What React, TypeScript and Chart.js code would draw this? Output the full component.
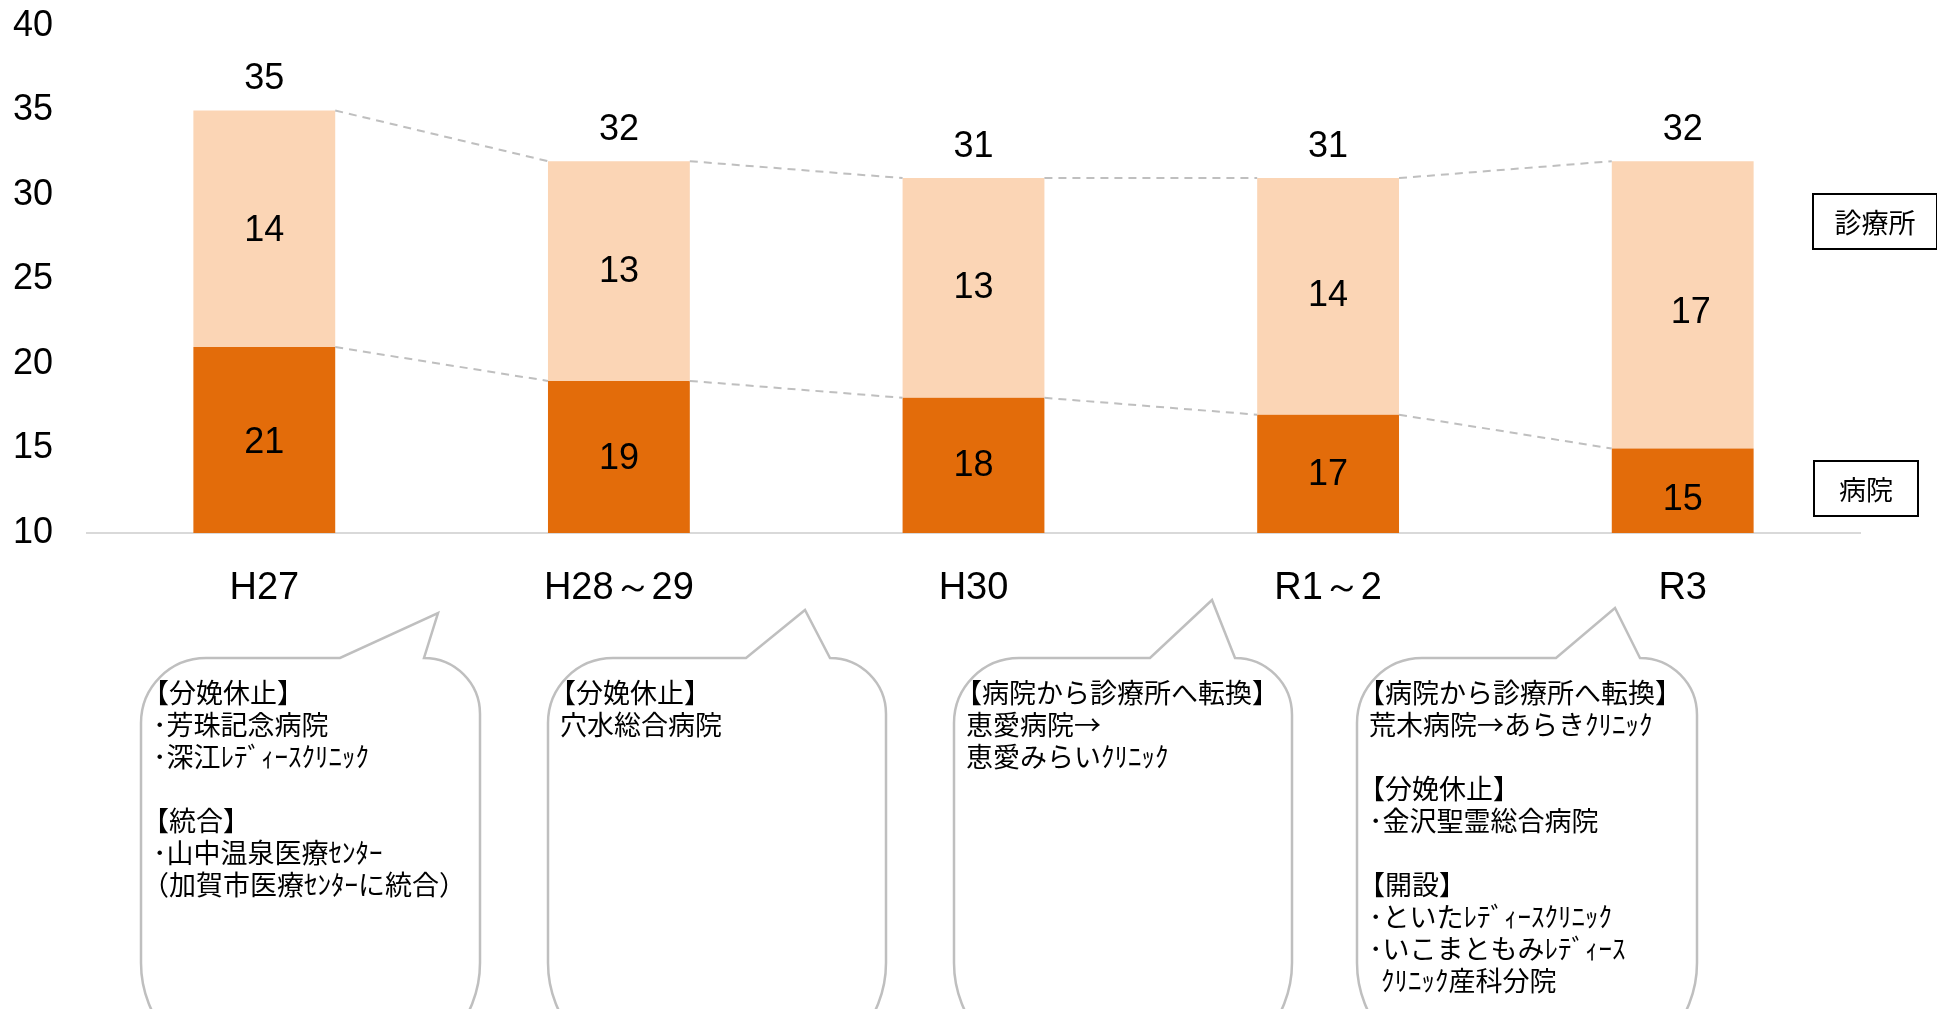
import React, { useEffect, useRef } from 'react';
import { Chart, registerables } from 'chart.js';

Chart.register(...registerables);

// ---------- data ----------
const categories = ['H27', 'H28～29', 'H30', 'R1～2', 'R3'];
const hospitalValues = [21, 19, 18, 17, 15];
const clinicValues = [14, 13, 13, 14, 17];
const hospitalName = '病院';
const clinicName = '診療所';
const yMin = 10;
const yMax = 40;
const yStep = 5;

const calloutTexts: string[][] = [
  ['【分娩休止】', '･芳珠記念病院', '･深江ﾚﾃﾞｨｰｽｸﾘﾆｯｸ', '', '【統合】', '･山中温泉医療ｾﾝﾀｰ', '（加賀市医療ｾﾝﾀｰに統合）'],
  ['【分娩休止】', '穴水総合病院'],
  ['【病院から診療所へ転換】', '恵愛病院→', '恵愛みらいｸﾘﾆｯｸ'],
  [
    '【病院から診療所へ転換】',
    '荒木病院→あらきｸﾘﾆｯｸ',
    '',
    '【分娩休止】',
    '･金沢聖霊総合病院',
    '',
    '【開設】',
    '･といたﾚﾃﾞｨｰｽｸﾘﾆｯｸ',
    '･いこまともみﾚﾃﾞｨｰｽ',
    '  ｸﾘﾆｯｸ産科分院',
  ],
];

// ---------- layout / style ----------
const W = 1937;
const H = 1009;
const LATIN = '"Liberation Sans", Arial, sans-serif';
const CJK = '"Noto Sans CJK JP", sans-serif';
const HOSPITAL_COLOR = '#E36C0A';
const CLINIC_COLOR = '#FBD5B5';
const SERIES_LINE_COLOR = '#bfbfbf';
const BUBBLE_STROKE = '#bfbfbf';

// small manual nudges of segment labels (dataset index -> per category [dx, dy])
const labelNudges: number[][][] = [
  [[0, 3], [0, 2], [0, 1], [0, 1], [0, 9]],
  [[0, 2], [0, 1], [0, 0], [0, 0], [8, 8]],
];

const calloutBoxes = [
  { left: 141, right: 480, tailL: 340, tailR: 424, tipX: 438, tipY: 613 },
  { left: 548, right: 886, tailL: 746, tailR: 830, tipX: 805, tipY: 610 },
  { left: 954, right: 1292, tailL: 1150, tailR: 1235, tipX: 1212, tipY: 600 },
  { left: 1357, right: 1697, tailL: 1556, tailR: 1640, tipX: 1615, tipY: 608 },
];
const CALLOUT_TOP = 658;
const CALLOUT_BOTTOM = 1073;
const CALLOUT_TEXT_Y0 = 693;
const CALLOUT_LINE_H = 32;

const legendBoxes = [
  { text: clinicName, x: 1813, y: 194, w: 124, h: 55 },
  { text: hospitalName, x: 1814, y: 461, w: 104, h: 55 },
];

const overlayPlugin = {
  id: 'overlayPlugin',
  afterDatasetsDraw(chart: any) {
    const ctx: CanvasRenderingContext2D = chart.ctx;
    const area = chart.chartArea;
    const metas = chart.data.datasets.map((_: any, i: number) => chart.getDatasetMeta(i));

    // dashed series lines
    ctx.save();
    ctx.strokeStyle = SERIES_LINE_COLOR;
    ctx.lineWidth = 2;
    ctx.setLineDash([8, 6]);
    metas.forEach((meta: any) => {
      for (let i = 0; i < meta.data.length - 1; i++) {
        const a = meta.data[i];
        const b = meta.data[i + 1];
        ctx.beginPath();
        ctx.moveTo(a.x + a.width / 2, a.y);
        ctx.lineTo(b.x - b.width / 2, b.y);
        ctx.stroke();
      }
    });
    ctx.restore();

    // segment labels
    ctx.save();
    ctx.fillStyle = '#000';
    ctx.font = `36px ${LATIN}`;
    ctx.textAlign = 'center';
    ctx.textBaseline = 'middle';
    metas.forEach((meta: any, di: number) => {
      const values = chart.data.datasets[di].data;
      meta.data.forEach((el: any, i: number) => {
        const bottom = Math.min(el.base, area.bottom);
        const top = Math.max(el.y, area.top);
        const n = (labelNudges[di] && labelNudges[di][i]) || [0, 0];
        ctx.fillText(String(values[i]), el.x + n[0], (top + bottom) / 2 + n[1]);
      });
    });
    // totals
    const topMeta = metas[metas.length - 1];
    topMeta.data.forEach((el: any, i: number) => {
      const total = hospitalValues[i] + clinicValues[i];
      ctx.fillText(String(total), el.x, el.y - 31);
    });
    ctx.restore();
  },
  afterDraw(chart: any) {
    const ctx: CanvasRenderingContext2D = chart.ctx;
    // callouts
    calloutBoxes.forEach((b, idx) => {
      const rTL = 65;
      const rTR = b.right - b.tailR;
      const rB = 110;
      const top = CALLOUT_TOP;
      const bottom = CALLOUT_BOTTOM;
      ctx.save();
      ctx.beginPath();
      ctx.moveTo(b.left, top + rTL);
      ctx.arcTo(b.left, top, b.left + rTL, top, rTL);
      ctx.lineTo(b.tailL, top);
      ctx.lineTo(b.tipX, b.tipY);
      ctx.lineTo(b.tailR, top);
      ctx.arcTo(b.right, top, b.right, top + rTR, rTR);
      ctx.lineTo(b.right, bottom - rB);
      ctx.arcTo(b.right, bottom, b.right - rB, bottom, rB);
      ctx.lineTo(b.left + rB, bottom);
      ctx.arcTo(b.left, bottom, b.left, bottom - rB, rB);
      ctx.closePath();
      ctx.fillStyle = '#ffffff';
      ctx.fill();
      ctx.strokeStyle = BUBBLE_STROKE;
      ctx.lineWidth = 2.5;
      ctx.stroke();

      ctx.fillStyle = '#000';
      ctx.font = `27px ${CJK}`;
      ctx.textAlign = 'left';
      ctx.textBaseline = 'middle';
      calloutTexts[idx].forEach((line, li) => {
        if (!line) return;
        const dx = line.startsWith('【') || line.startsWith('（') ? -11 : 0;
        ctx.fillText(line, b.left + 12 + dx, CALLOUT_TEXT_Y0 + li * CALLOUT_LINE_H);
      });
      ctx.restore();
    });

    // series name boxes
    ctx.save();
    legendBoxes.forEach((lb) => {
      ctx.fillStyle = '#ffffff';
      ctx.fillRect(lb.x, lb.y, lb.w, lb.h);
      ctx.strokeStyle = '#000';
      ctx.lineWidth = 2;
      ctx.strokeRect(lb.x, lb.y, lb.w, lb.h);
      ctx.fillStyle = '#000';
      ctx.font = `27px ${CJK}`;
      ctx.textAlign = 'center';
      ctx.textBaseline = 'middle';
      ctx.fillText(lb.text, lb.x + lb.w / 2, lb.y + lb.h / 2 + 1);
    });
    ctx.restore();
  },
};

export default function App() {
  const canvasRef = useRef<HTMLCanvasElement | null>(null);

  useEffect(() => {
    const canvas = canvasRef.current;
    if (!canvas) return;
    const chart = new Chart(canvas, {
      type: 'bar',
      data: {
        labels: categories,
        datasets: [
          {
            label: hospitalName,
            data: hospitalValues,
            backgroundColor: HOSPITAL_COLOR,
            borderWidth: 0,
            clip: 0,
          } as any,
          {
            label: clinicName,
            data: clinicValues,
            backgroundColor: CLINIC_COLOR,
            borderWidth: 0,
            clip: 0,
          } as any,
        ],
      },
      options: {
        responsive: false,
        animation: false,
        devicePixelRatio: 1,
        layout: { padding: { left: 0, right: 77, top: 26, bottom: 0 } },
        datasets: { bar: { categoryPercentage: 1, barPercentage: 0.4 } },
        plugins: {
          legend: { display: false },
          tooltip: { enabled: false },
          title: { display: false },
        },
        scales: {
          x: {
            stacked: true,
            grid: { display: false, drawTicks: false },
            border: { display: true, color: '#d9d9d9', width: 2 },
            ticks: {
              color: '#000',
              font: { family: LATIN, size: 38 },
              padding: 33,
              maxRotation: 0,
              autoSkip: false,
            },
            afterFit: (scale: any) => {
              scale.height = H - 533;
              scale.paddingLeft = 0;
              scale.paddingRight = 0;
            },
          },
          y: {
            stacked: true,
            min: yMin,
            max: yMax,
            grid: { display: false, drawTicks: false },
            border: { display: false },
            ticks: {
              stepSize: yStep,
              color: '#000',
              font: { family: LATIN, size: 36 },
              padding: 34,
            },
            afterFit: (scale: any) => {
              scale.width = 87;
              scale.paddingTop = 0;
              scale.paddingBottom = 0;
            },
          },
        },
      },
      plugins: [overlayPlugin],
    });
    return () => chart.destroy();
  }, []);

  return (
    <div style={{ position: 'fixed', left: 0, top: 0, width: W, height: H, background: '#fff' }}>
      <canvas ref={canvasRef} width={W} height={H} style={{ display: 'block', width: W, height: H }} />
    </div>
  );
}
